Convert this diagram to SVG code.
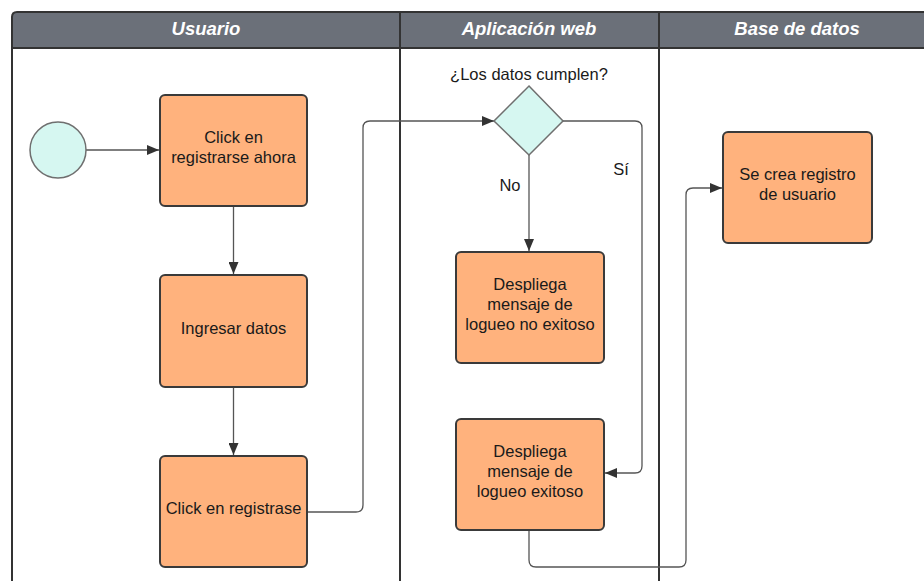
<svg xmlns="http://www.w3.org/2000/svg" width="924" height="581" viewBox="0 0 924 581">
  <style>
    .lane { fill: none; stroke: #333333; stroke-width: 2; }
    .hdr { fill: #6b7079; }
    .hdr-text { font-family: "Liberation Sans", Arial, sans-serif; font-size: 18.5px; font-weight: bold; font-style: italic; fill: #ffffff; text-anchor: middle; }
    .task { fill: #ffb27d; stroke: #3a3a3a; stroke-width: 2; }
    .start { fill: #d6f7f1; stroke: #6f6f6f; stroke-width: 1.5; }
    .gate { fill: #d6f7f1; stroke: #6f6f6f; stroke-width: 1.5; }
    .label { font-family: "Liberation Sans", Arial, sans-serif; font-size: 16.5px; fill: #1a1a1a; text-anchor: middle; }
    .edge { fill: none; stroke: #555555; stroke-width: 1.3; }
    .edge-arrow { fill: none; stroke: #555555; stroke-width: 1.3; marker-end: url(#arrow); }
  </style>
  <defs>
    <marker id="arrow" viewBox="0 0 12 10" refX="12" refY="5" markerWidth="12" markerHeight="10" markerUnits="userSpaceOnUse" orient="auto">
      <path d="M0,0 L12,5 L0,10 Z" fill="#333333"/>
    </marker>
  </defs>

  <rect width="924" height="581" fill="#ffffff"/>

  <!-- swimlane pool -->
  <g id="pool">
    <path class="hdr" d="M12,17 Q12,12 17,12 H924 V48 H12 Z"/>
    <path class="lane" d="M12,581 V17 Q12,12 17,12 H924"/>
    <line class="lane" x1="12" y1="48" x2="924" y2="48"/>
    <line class="lane" x1="400" y1="12" x2="400" y2="581"/>
    <line class="lane" x1="659" y1="12" x2="659" y2="581"/>
    <text class="hdr-text" x="206" y="34.5">Usuario</text>
    <text class="hdr-text" x="529" y="34.5">Aplicación web</text>
    <text class="hdr-text" x="797" y="34.5">Base de datos</text>
  </g>

  <!-- connectors -->
  <g id="connectors">
    <path class="edge-arrow" d="M86,150 H159"/>
    <path class="edge-arrow" d="M233.5,206 V274"/>
    <path class="edge-arrow" d="M233.5,387 V455"/>
    <path class="edge-arrow" d="M307,512 H356 Q363,512 363,505 V128 Q363,121 370,121 H494"/>
    <path class="edge-arrow" d="M529,155 V251"/>
    <path class="edge-arrow" d="M563,121 H635 Q642,121 642,128 V466 Q642,473 635,473 H605"/>
    <path class="edge-arrow" d="M529,530 V560 Q529,567 536,567 H679 Q686,567 686,560 V195 Q686,188 693,188 H722"/>
    <text class="label" x="510" y="191">No</text>
    <text class="label" x="621" y="175">Sí</text>
  </g>

  <!-- nodes -->
  <g id="start">
    <circle class="start" cx="58" cy="150" r="28"/>
  </g>

  <g id="click-registrarse-ahora">
    <rect class="task" x="160" y="95" width="147" height="111" rx="5"/>
    <text class="label" x="233.5" y="143">Click en</text>
    <text class="label" x="233.5" y="163">registrarse ahora</text>
  </g>

  <g id="ingresar-datos">
    <rect class="task" x="160" y="275" width="147" height="112" rx="5"/>
    <text class="label" x="233.5" y="334">Ingresar datos</text>
  </g>

  <g id="click-registrase">
    <rect class="task" x="160" y="456" width="147" height="111" rx="5"/>
    <text class="label" x="233.5" y="514">Click en registrase</text>
  </g>

  <g id="datos-cumplen">
    <path class="gate" d="M529,86 L563,121 L529,155 L494,121 Z"/>
    <text class="label" x="529" y="80">¿Los datos cumplen?</text>
  </g>

  <g id="logueo-no-exitoso">
    <rect class="task" x="456" y="252" width="148" height="111" rx="5"/>
    <text class="label" x="530" y="290">Despliega</text>
    <text class="label" x="530" y="310">mensaje de</text>
    <text class="label" x="530" y="330">logueo no exitoso</text>
  </g>

  <g id="logueo-exitoso">
    <rect class="task" x="456" y="419" width="148" height="111" rx="5"/>
    <text class="label" x="530" y="457">Despliega</text>
    <text class="label" x="530" y="477">mensaje de</text>
    <text class="label" x="530" y="497">logueo exitoso</text>
  </g>

  <g id="registro-usuario">
    <rect class="task" x="723" y="132" width="149" height="111" rx="5"/>
    <text class="label" x="797.5" y="180">Se crea registro</text>
    <text class="label" x="797.5" y="200">de usuario</text>
  </g>
</svg>
